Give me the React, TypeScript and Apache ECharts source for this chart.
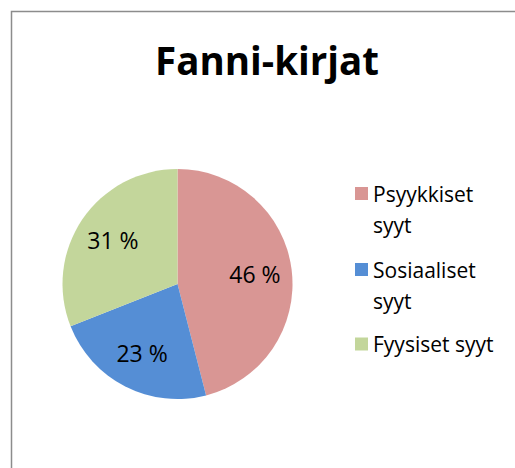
import React, { useEffect, useRef } from "react";
import * as echarts from "echarts";

const titleText = "Fanni-kirjat";
const categories = ["Psyykkiset syyt", "Sosiaaliset syyt", "Fyysiset syyt"];
const values = [46, 23, 31];
const legendLabels = ["Psyykkiset\nsyyt", "Sosiaaliset\nsyyt", "Fyysiset syyt"];
const colors = ["#D99694", "#558ED5", "#C3D69B"];

const FONT = "'Open Sans', 'Noto Sans', sans-serif";

export default function App() {
  const ref = useRef<HTMLDivElement>(null);
  useEffect(() => {
    if (!ref.current) return;
    const chart = echarts.init(ref.current, undefined, { renderer: "svg" });
    const legendTops = [147, 223, 328.5];
    const option = {
      animation: false,
      backgroundColor: "#ffffff",
      title: {
        text: titleText,
        left: 155,
        top: 40,
        padding: 0,
        textStyle: { fontFamily: FONT, fontWeight: "bold", fontSize: 38.5, color: "#000" },
      },
      graphic: [
        {
          type: "rect",
          shape: { x: 11.5, y: 11.5, width: 520, height: 480 },
          style: { fill: "none", stroke: "#8c8c8c", lineWidth: 1.5 },
          silent: true,
        },
      ],
      legend: categories.map((name, i) => ({
        orient: "vertical",
        left: 355,
        top: legendTops[i],
        padding: 0,
        itemGap: 0,
        itemWidth: 13,
        itemHeight: 13,
        icon: "rect",
        selectedMode: false,
        // a leading empty line keeps the first text line level with the swatch
        formatter: () => (legendLabels[i].includes("\n") ? "\n" + legendLabels[i] : legendLabels[i]),
        data: [name],
        textStyle: {
          fontFamily: FONT,
          fontSize: 21,
          lineHeight: 31,
          color: "#000",
        },
      })),
      series: [
        {
          type: "pie",
          center: [177.5, 284],
          radius: [0, 115],
          startAngle: 90,
          clockwise: true,
          silent: true,
          label: { show: false },
          labelLine: { show: false },
          data: categories.map((name, i) => ({
            name,
            value: values[i],
            itemStyle: { color: colors[i] },
          })),
        },
        {
          type: "pie",
          center: [177.5, 284],
          radius: [35, 115],
          startAngle: 90,
          clockwise: true,
          silent: true,
          label: {
            show: true,
            position: "inside",
            formatter: "{c} %",
            fontFamily: FONT,
            fontSize: 23,
            color: "#000",
          },
          labelLine: { show: false },
          data: categories.map((name, i) => ({
            name,
            value: values[i],
            itemStyle: { color: "rgba(0,0,0,0)" },
          })),
        },
      ],
    };
    chart.setOption(option as any);
    return () => chart.dispose();
  }, []);
  return (
    <div
      ref={ref}
      style={{ position: "absolute", left: 0, top: 0, width: 515, height: 468, background: "#fff" }}
    />
  );
}
